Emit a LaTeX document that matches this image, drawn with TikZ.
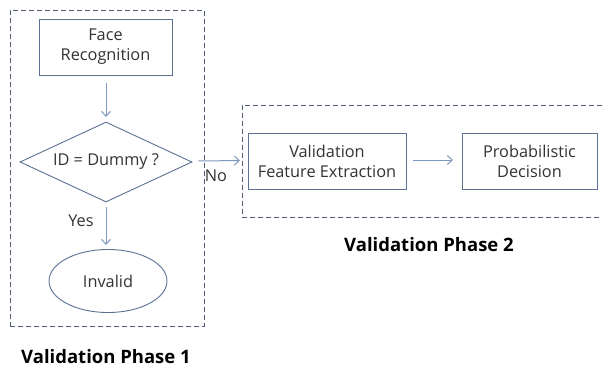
\documentclass[tikz,border=0pt]{standalone}
\usepackage{fontspec}
\setmainfont{Open Sans}
\usetikzlibrary{shapes.geometric,arrows.meta}
\definecolor{boxline}{HTML}{5B7293}
\definecolor{arrowc}{HTML}{7C98BD}
\definecolor{dashc}{HTML}{4F5D75}
\definecolor{txt}{HTML}{333333}
\begin{document}
\begin{tikzpicture}[x=1pt,y=-1pt,
  every node/.style={font=\fontsize{16.3}{20}\selectfont, text=txt},
  procbox/.style={draw=boxline, line width=0.9pt, fill=white, align=center, inner sep=0pt},
  phase/.style={draw=dashc, line width=0.9pt, dash pattern=on 5pt off 3pt},
  flow/.style={draw=arrowc, line width=1pt, -{Straight Barb[length=5pt,width=9pt]}},
  title/.style={font=\fontsize{18.5}{20}\selectfont\bfseries, text=black}]
\useasboundingbox (0,0) rectangle (602,367);
% phase frames
\node[phase, minimum width=194pt, minimum height=316pt, inner sep=0pt] (p1) at (107,168) {};
\node[phase, minimum width=380pt, minimum height=112pt, inner sep=0pt] (p2) at (432,161) {};
% phase 1
\node[procbox, minimum width=133pt, minimum height=56pt] (face) at (105.5,47) {Face\\Recognition};
\node[draw=boxline, line width=0.9pt, fill=white, diamond, aspect=2.15, minimum width=172pt, minimum height=80pt, inner sep=0pt] (dec) at (106,162) {ID = Dummy ?};
\node[draw=boxline, line width=0.9pt, fill=white, ellipse, minimum width=118pt, minimum height=63pt, inner sep=0pt] (inv) at (108,281) {Invalid};
% phase 2
\node[procbox, minimum width=158pt, minimum height=56pt] (vfe) at (327,161) {Validation\\Feature Extraction};
\node[procbox, minimum width=135pt, minimum height=56pt] (pd) at (529.5,161) {Probabilistic\\Decision};
% connectors
\coordinate (fa) at (106,83);
\draw[flow] (fa) -- (106,117);
\draw[flow] (dec.east) ++(6,-1) coordinate (na) -- (240,160.5) coordinate (nb);
\draw[flow] (413,160) coordinate (va) -- (453,160) coordinate (vb);
\draw[flow] (106,207) coordinate (ya) -- (106,245) coordinate (yb);
% labels
\node[anchor=center] (no) at (216,176) {No};
\node[anchor=center] (yes) at (81,221) {Yes};
\node[title] (t1) at (106,357) {Validation Phase 1};
\node[title] (t2) at (429,245) {Validation Phase 2};
\end{tikzpicture}
\end{document}
